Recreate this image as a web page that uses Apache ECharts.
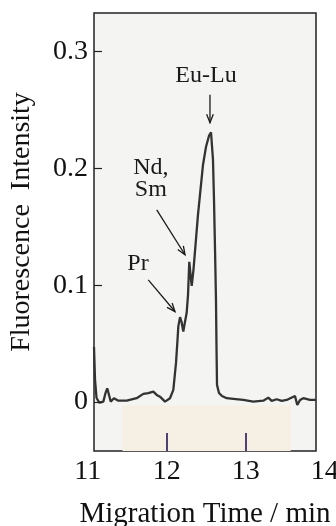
<!DOCTYPE html>
<html>
<head>
<meta charset="utf-8">
<script src="https://cdn.jsdelivr.net/npm/echarts@6/dist/echarts.min.js"></script>
<style>
  html, body { margin: 0; padding: 0; background: #ffffff; }
  #chart { width: 336px; height: 526px; }
</style>
</head>
<body>
<div id="chart"></div>
<script>
// migration time (min) and fluorescence intensity
const timeValues = [
  11.080, 11.093, 11.112, 11.147, 11.198, 11.226, 11.248, 11.270, 11.291, 11.333,
  11.388, 11.494, 11.620, 11.704, 11.767, 11.831, 11.874, 11.915, 11.979, 12.042,
  12.084, 12.118, 12.137, 12.147, 12.169, 12.188, 12.210, 12.232, 12.253, 12.270,
  12.286, 12.302, 12.317, 12.339, 12.365, 12.396, 12.428, 12.460, 12.498, 12.536,
  12.561, 12.586, 12.599, 12.612, 12.624, 12.631, 12.637, 12.662, 12.700, 12.760,
  12.843, 12.970, 13.096, 13.223, 13.286, 13.329, 13.393, 13.456, 13.519, 13.624,
  13.653, 13.688, 13.729, 13.814, 13.890
];
const intensityValues = [
  0.0471, 0.0189, 0.0034, -0.0006, 0.0003, 0.0077, 0.0117, 0.0060, 0.0003, 0.0032,
  0.0011, 0.0011, 0.0032, 0.0069, 0.0075, 0.0088, 0.0060, 0.0045, 0.0003, 0.0032,
  0.0103, 0.0334, 0.0531, 0.0645, 0.0726, 0.0686, 0.0602, 0.0686, 0.0763, 0.0917,
  0.1200, 0.1088, 0.0994, 0.1131, 0.1345, 0.1602, 0.1817, 0.2031, 0.2185, 0.2279,
  0.2309, 0.2074, 0.1731, 0.1302, 0.0874, 0.0446, 0.0146, 0.0077, 0.0051, 0.0032,
  0.0026, 0.0017, 0.0003, 0.0011, 0.0037, 0.0009, 0.0023, 0.0009, 0.0017, 0.0051,
  -0.0026, 0.0017, 0.0032, 0.0017, 0.0017
];

const xTickLabels = [11, 12, 13, 14];
const xInnerTicks = [12, 13];
const yTickValues = [0, 0.1, 0.2, 0.3];

// peak labels: text, text position, arrow tail, arrow head (data units)
const peakLabels = ['Eu-Lu', 'Nd,\nSm', 'Pr'];
const peakTextPos = [[12.498, 0.2794], [11.80, 0.1911], [11.637, 0.1183]];
const peakArrowTail = [[12.548, 0.2631], [11.874, 0.1645], [11.767, 0.1045]];
const peakArrowHead = [[12.548, 0.2391], [12.232, 0.1260], [12.105, 0.0774]];

// shaded strip under the baseline
const stripX = [11.44, 13.57];
const stripY = [-0.042, -0.003];

const serif = '"Liberation Serif", "DejaVu Serif", serif';

const chart = echarts.init(document.getElementById('chart'));

const traceData = timeValues.map((t, i) => [t, intensityValues[i]]);
const annotationData = peakLabels.map((name, i) => [
  peakTextPos[i][0], peakTextPos[i][1],
  peakArrowTail[i][0], peakArrowTail[i][1],
  peakArrowHead[i][0], peakArrowHead[i][1],
  i
]);

const renderAnnotation = (params, api) => {
  const idx = api.value(6);
  const textPt = api.coord([api.value(0), api.value(1)]);
  const tail = api.coord([api.value(2), api.value(3)]);
  const head = api.coord([api.value(4), api.value(5)]);
  const ang = Math.atan2(head[1] - tail[1], head[0] - tail[0]);
  const len = 9;
  const spread = 0.38;
  const wingA = [head[0] - len * Math.cos(ang - spread), head[1] - len * Math.sin(ang - spread)];
  const wingB = [head[0] - len * Math.cos(ang + spread), head[1] - len * Math.sin(ang + spread)];
  return {
    type: 'group',
    children: [
      {
        type: 'text',
        style: {
          text: peakLabels[idx],
          x: textPt[0],
          y: textPt[1],
          align: 'center',
          verticalAlign: 'middle',
          font: '24px ' + serif,
          lineHeight: 22,
          fill: '#1a1a1a',
        },
      },
      {
        type: 'line',
        shape: { x1: tail[0], y1: tail[1], x2: head[0], y2: head[1] },
        style: { stroke: '#1a1a1a', lineWidth: 1.3 },
      },
      {
        type: 'polyline',
        shape: { points: [wingA, head, wingB] },
        style: { stroke: '#1a1a1a', lineWidth: 1.3, fill: null },
      },
    ],
  };
};

const option = {
  animation: false,
  backgroundColor: '#ffffff',
  grid: [
    {
      left: 94, right: 20, top: 13, bottom: 75,
      outerBoundsMode: 'none',
      containLabel: false,
      show: true,
      backgroundColor: '#f4f4f3',
      borderColor: '#222222',
      borderWidth: 1.5,
    },
    // wider twin grid only used to place the 11 and 14 labels
    { left: 87.7, right: 11.3, top: 13, bottom: 75, outerBoundsMode: 'none', containLabel: false },
  ],
  xAxis: [
    {
      type: 'value',
      gridIndex: 0,
      min: 11.08,
      max: 13.89,
      z: 10,
      axisLine: { show: false, onZero: false },
      splitLine: { show: false },
      axisLabel: { show: false },
      axisTick: {
        show: true,
        inside: true,
        length: 18,
        customValues: xInnerTicks,
        lineStyle: { color: '#4d4272', width: 2 },
      },
      name: 'Migration Time / min',
      nameLocation: 'middle',
      nameGap: 49,
      nameTextStyle: { fontFamily: serif, fontSize: 29, color: '#111111' },
    },
    {
      type: 'value',
      gridIndex: 1,
      min: 11,
      max: 14,
      interval: 1,
      axisLine: { show: false, onZero: false },
      axisTick: { show: false },
      splitLine: { show: false },
      axisLabel: {
        customValues: xTickLabels,
        fontFamily: serif,
        fontSize: 28,
        color: '#111111',
        margin: 7,
      },
    },
  ],
  yAxis: [
    {
      type: 'value',
      gridIndex: 0,
      min: -0.042,
      max: 0.333,
      z: 10,
      axisLine: { show: false, onZero: false },
      splitLine: { show: false },
      axisTick: {
        show: true,
        inside: true,
        length: 8,
        customValues: yTickValues,
        lineStyle: { color: '#222222', width: 1.2 },
      },
      axisLabel: {
        customValues: yTickValues,
        formatter: (v) => (v === 0 ? '0' : v.toFixed(1)),
        fontFamily: serif,
        fontSize: 28,
        color: '#111111',
        margin: 6,
      },
      name: 'Fluorescence  Intensity',
      nameLocation: 'middle',
      nameGap: 58,
      nameTextStyle: {
        fontFamily: serif,
        fontSize: 28,
        color: '#111111',
        padding: [0, 0, 0, 20],
      },
    },
    {
      type: 'value',
      gridIndex: 1,
      min: -0.042,
      max: 0.333,
      show: false,
    },
  ],
  series: [
    {
      type: 'line',
      xAxisIndex: 0,
      yAxisIndex: 0,
      data: traceData,
      showSymbol: false,
      smooth: false,
      lineStyle: { color: '#333333', width: 2.3 },
      markArea: {
        silent: true,
        itemStyle: { color: '#f6efe3' },
        data: [[{ coord: [stripX[0], stripY[0]] }, { coord: [stripX[1], stripY[1]] }]],
      },
      z: 3,
    },
    {
      type: 'custom',
      xAxisIndex: 0,
      yAxisIndex: 0,
      data: annotationData,
      renderItem: renderAnnotation,
      silent: true,
      z: 4,
    },
  ],
};

chart.setOption(option);
</script>
</body>
</html>
